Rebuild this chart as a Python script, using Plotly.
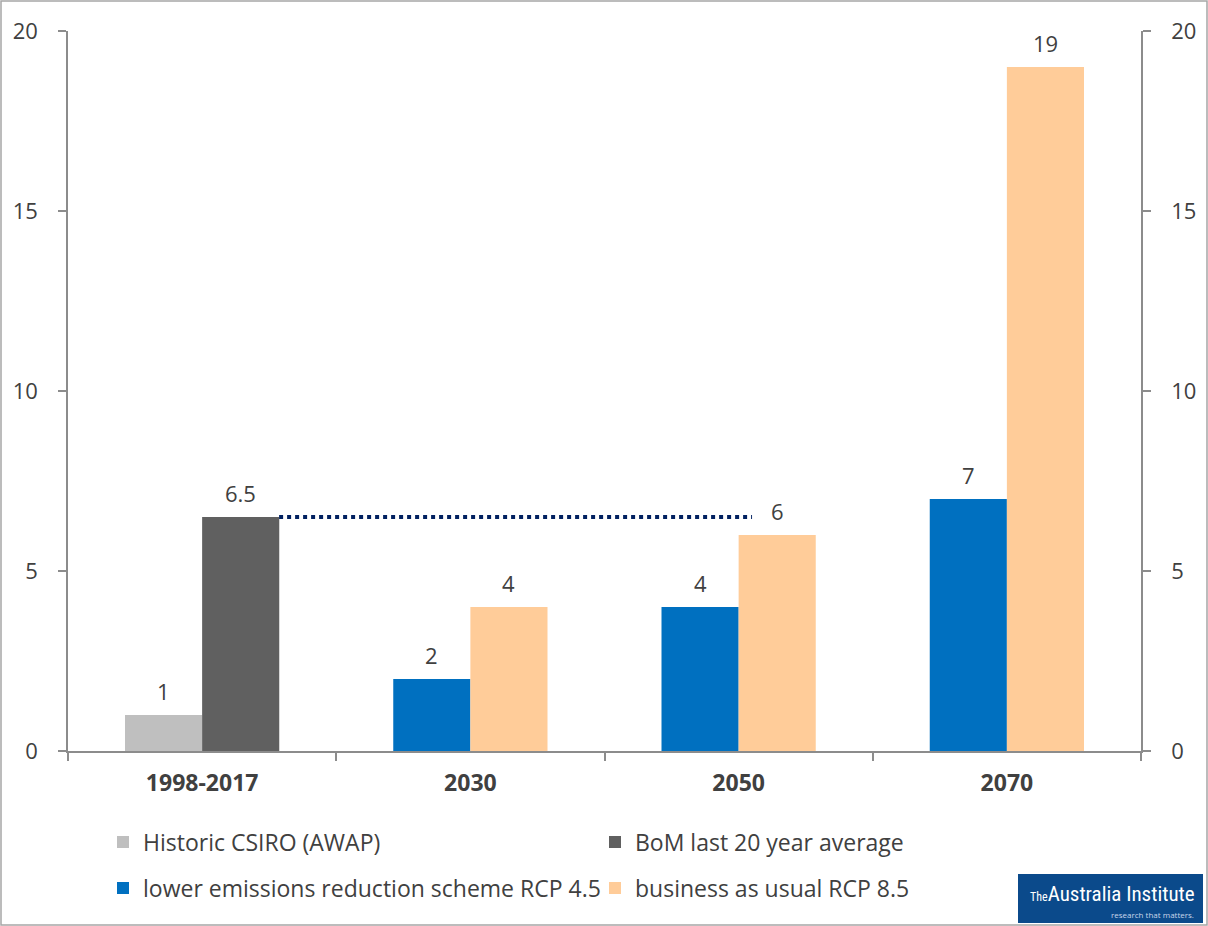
import plotly.graph_objects as go

categories = ["1998-2017", "2030", "2050", "2070"]
cat_pos = [0, 1, 2, 3]

historic_x = [0]
historic_vals = [1]
bom_x = [0]
bom_vals = [6.5]
rcp45_x = [1, 2, 3]
rcp45_vals = [2, 4, 7]
rcp85_x = [1, 2, 3]
rcp85_vals = [4, 6, 19]

ref_line_x = [0.287, 2.05]
ref_line_y = [6.5, 6.5]

W, H = 1208, 926
ML, MR, MT, MB = 68, 67, 31, 175
FONT = "Open Sans"
TXT = "#404040"
BARGAP = 0.425
BAR_W = (1 - BARGAP) / 2

fig = go.Figure()

def bar(name, x, y, color, og, legend, side):
    fig.add_trace(go.Bar(
        name=name, x=x, y=y, offsetgroup=og, marker=dict(color=color, line=dict(width=0)),
        legend=legend, hoverinfo="x+y",
    ))
    for xi, yi in zip(x, y):
        fig.add_annotation(x=xi + side * BAR_W / 2, y=yi, text=f"{yi:g}", showarrow=False,
                           yanchor="middle", yshift=24,
                           font=dict(size=22, color=TXT, family=FONT))

bar("Historic CSIRO (AWAP)", historic_x, historic_vals, "#BFBFBF", "a", "legend", -1)
bar("BoM last 20 year average", bom_x, bom_vals, "#606060", "b", "legend", 1)
bar("lower emissions reduction scheme RCP 4.5", rcp45_x, rcp45_vals, "#0070C0", "a", "legend2", -1)
bar("business as usual RCP 8.5", rcp85_x, rcp85_vals, "#FFCC99", "b", "legend2", 1)

fig.add_trace(go.Scatter(
    x=ref_line_x, y=ref_line_y, mode="lines", showlegend=False,
    line=dict(color="#002060", width=4, dash="dot"), hoverinfo="skip",
))

fig.add_trace(go.Scatter(x=[None], y=[None], yaxis="y2", showlegend=False))
fig.add_trace(go.Scatter(x=[None], y=[None], xaxis="x2", showlegend=False))

axis_col = "#8C8C8C"
pw, ph = W - ML - MR, H - MT - MB
def px_x(p):
    return (p - ML) / pw
def px_y(p):
    return (H - MB - p) / ph

legend_common = dict(orientation="h", xanchor="left", yanchor="middle", entrywidth=447,
                     entrywidthmode="pixels", font=dict(size=23, color=TXT, family=FONT),
                     bgcolor="rgba(0,0,0,0)", itemclick=False, itemdoubleclick=False)

fig.update_layout(
    width=W, height=H,
    margin=dict(l=ML, r=MR, t=MT, b=MB, autoexpand=False),
    paper_bgcolor="white", plot_bgcolor="white",
    barmode="group", bargap=BARGAP, bargroupgap=0,
    font=dict(family=FONT, color=TXT, size=22),
    xaxis=dict(range=[-0.5, 3.5], tickvals=[-0.5, 0.5, 1.5, 2.5, 3.5], ticktext=[""] * 5,
               ticks="outside", ticklen=8, tickcolor=axis_col, tickwidth=1.5,
               showline=True, linecolor=axis_col, linewidth=1.5, showgrid=False, zeroline=False),
    xaxis2=dict(range=[-0.5, 3.5], overlaying="x", side="bottom", tickvals=cat_pos,
                ticktext=[f"<b>{c}</b>" for c in categories], ticks="", showgrid=False,
                zeroline=False, showline=False, tickfont=dict(size=23, color=TXT, family=FONT),
                ticklabelstandoff=16),
    yaxis=dict(range=[0, 20], tickvals=[0, 5, 10, 15, 20], ticks="outside", ticklen=8,
               tickcolor=axis_col, tickwidth=1.5, showline=True, linecolor=axis_col, linewidth=1.5,
               showgrid=False, zeroline=False, tickfont=dict(size=22, color=TXT), ticklabelstandoff=16),
    yaxis2=dict(range=[0, 20], tickvals=[0, 5, 10, 15, 20], overlaying="y", side="right",
                ticks="outside", ticklen=8, tickcolor=axis_col, tickwidth=1.5, showline=True,
                linecolor=axis_col, linewidth=1.5, showgrid=False, zeroline=False,
                tickfont=dict(size=22, color=TXT), ticklabelstandoff=16),
    legend=dict(x=px_x(103), y=px_y(842), **legend_common),
    legend2=dict(x=px_x(103), y=px_y(888), **legend_common),
)

# outer frame
fig.add_shape(type="rect", xref="paper", yref="paper",
              x0=px_x(1), x1=px_x(1207), y0=px_y(925), y1=px_y(1),
              line=dict(color="#A6A6A6", width=1.5), fillcolor="rgba(0,0,0,0)", layer="below")
# logo
fig.add_shape(type="rect", xref="paper", yref="paper",
              x0=px_x(1018), x1=px_x(1203), y0=px_y(923), y1=px_y(874),
              line=dict(width=0), fillcolor="#0B4A8B", layer="below")
fig.add_annotation(xref="paper", yref="paper", x=px_x(1028), y=px_y(894), showarrow=False,
                   xanchor="left", yanchor="middle",
                   text="<span style='font-size:12px'>The</span>Australia Institute",
                   font=dict(family="Liberation Sans Narrow, Roboto Condensed, Roboto", size=21, color="white"))
fig.add_annotation(xref="paper", yref="paper", x=px_x(1196), y=px_y(914), showarrow=False,
                   xanchor="right", yanchor="middle", text="research that matters.",
                   font=dict(family=FONT, size=8, color="#C8D6EA"))

fig.write_html("out.html", config={"displayModeBar": False},
               post_script="document.body.style.margin='0';document.body.style.padding='0';")
